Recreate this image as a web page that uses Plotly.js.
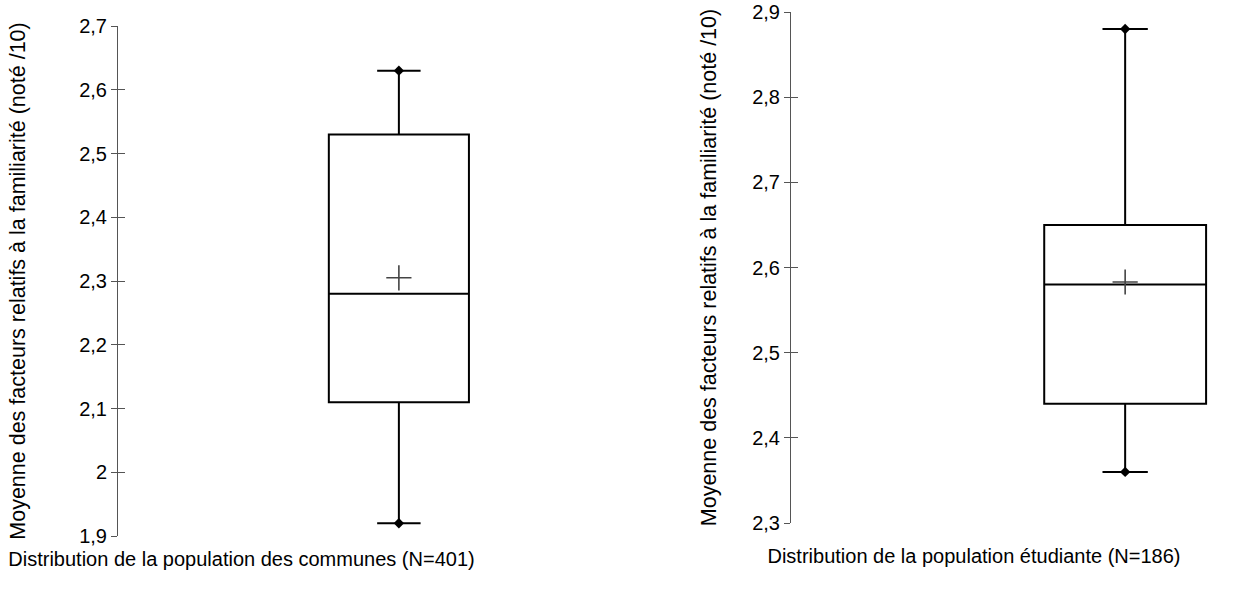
<!DOCTYPE html>
<html>
<head>
<meta charset="utf-8">
<script src="https://cdn.plot.ly/plotly-3.0.1.min.js"></script>
<style>html,body{margin:0;padding:0;background:#fff;}#chart{width:1252px;height:606px;}</style>
</head>
<body>
<div id="chart"></div>
<script>
// ---- Data ----
const categories = ['Distribution de la population des communes (N=401)', 'Distribution de la population étudiante (N=186)'];
const lowerWhisker = [1.92, 2.36];
const q1 = [2.11, 2.44];
const median = [2.28, 2.58];
const q3 = [2.53, 2.65];
const upperWhisker = [2.63, 2.88];
const mean = [2.305, 2.583];
const yTitle = 'Moyenne des facteurs relatifs à la familiarité (noté /10)';
const yRanges = [[1.9, 2.7], [2.3, 2.9]];

// ---- Layout config (positions / styles) ----
const W = 1252, H = 606;
const panels = [
  {xdom: [8, 475], ypos: 117, ydom: [26, 536], boxX: 0.837, boxW: 0.30, cap: 0.31, crossSize: 18, xStand: 15, yStand: 46},
  {xdom: [706, 1242], ypos: 790, ydom: [12, 523], boxX: 0.782, boxW: 0.302, cap: 0.28, crossSize: 18, xStand: 25, yStand: 28}
];
const FONT = 'Liberation Sans, Arial, sans-serif';

const traces = [];
const layout = {
  width: W, height: H,
  margin: {l: 0, r: 0, t: 0, b: 0},
  paper_bgcolor: '#fff', plot_bgcolor: 'rgba(0,0,0,0)',
  showlegend: false,
  separators: ', ',
  font: {family: FONT, color: '#000'}
};

panels.forEach((p, i) => {
  const n = i + 1;
  const xa = n === 1 ? 'x' : 'x' + n;
  const ya = n === 1 ? 'y' : 'y' + n;
  const yOver = 'y' + (n + 2);
  traces.push({
    type: 'box', x: [p.boxX], q1: [q1[i]], median: [median[i]], q3: [q3[i]],
    lowerfence: [lowerWhisker[i]], upperfence: [upperWhisker[i]],
    width: p.boxW, whiskerwidth: p.cap, boxpoints: false,
    fillcolor: 'rgba(255,255,255,0)', line: {color: '#000', width: 2},
    xaxis: xa, yaxis: ya, name: categories[i], hoverinfo: 'skip'
  });
  traces.push({
    type: 'scatter', mode: 'markers', x: [p.boxX, p.boxX], y: [lowerWhisker[i], upperWhisker[i]],
    marker: {symbol: 'diamond', size: 8, color: '#000'}, xaxis: xa, yaxis: ya, hoverinfo: 'skip'
  });
  traces.push({
    type: 'scatter', mode: 'markers', x: [p.boxX], y: [mean[i]],
    marker: {symbol: 'cross-thin-open', size: p.crossSize, color: '#444', line: {color: '#444', width: 1.6}},
    xaxis: xa, yaxis: ya, hoverinfo: 'skip'
  });
  // invisible trace to register the overlay axis used for inner tick halves
  traces.push({
    type: 'scatter', mode: 'markers', x: [p.boxX], y: [mean[i]],
    marker: {opacity: 0, size: 1}, xaxis: xa, yaxis: yOver, hoverinfo: 'skip'
  });
  const xdom = [p.xdom[0] / W, p.xdom[1] / W];
  const ydom = [1 - p.ydom[1] / H, 1 - p.ydom[0] / H];
  layout[n === 1 ? 'xaxis' : 'xaxis' + n] = {
    domain: xdom, range: [0, 1], anchor: ya, showline: false, showgrid: false, zeroline: false,
    showticklabels: false, ticks: '', fixedrange: true,
    title: {text: categories[i], font: {size: 20, family: FONT, color: '#000'}, standoff: p.xStand}
  };
  const yBase = {
    domain: ydom, range: yRanges[i], anchor: 'free', position: p.ypos / W,
    showgrid: false, zeroline: false, tick0: 0, dtick: 0.1, fixedrange: true
  };
  layout[n === 1 ? 'yaxis' : 'yaxis' + n] = Object.assign({}, yBase, {
    showline: true, linecolor: '#555', linewidth: 1,
    ticks: 'outside', ticklen: 6, tickcolor: '#555', tickwidth: 1,
    tickfont: {size: 20, family: FONT, color: '#000'},
    title: {text: yTitle, font: {size: 21.5, family: FONT, color: '#000'}, standoff: p.yStand}
  });
  layout['yaxis' + (n + 2)] = Object.assign({}, yBase, {
    overlaying: ya, showline: false, ticks: 'inside', ticklen: 7, tickcolor: '#555', tickwidth: 1,
    showticklabels: false
  });
});

Plotly.newPlot('chart', traces, layout, {displayModeBar: false, staticPlot: true});
</script>
</body>
</html>
